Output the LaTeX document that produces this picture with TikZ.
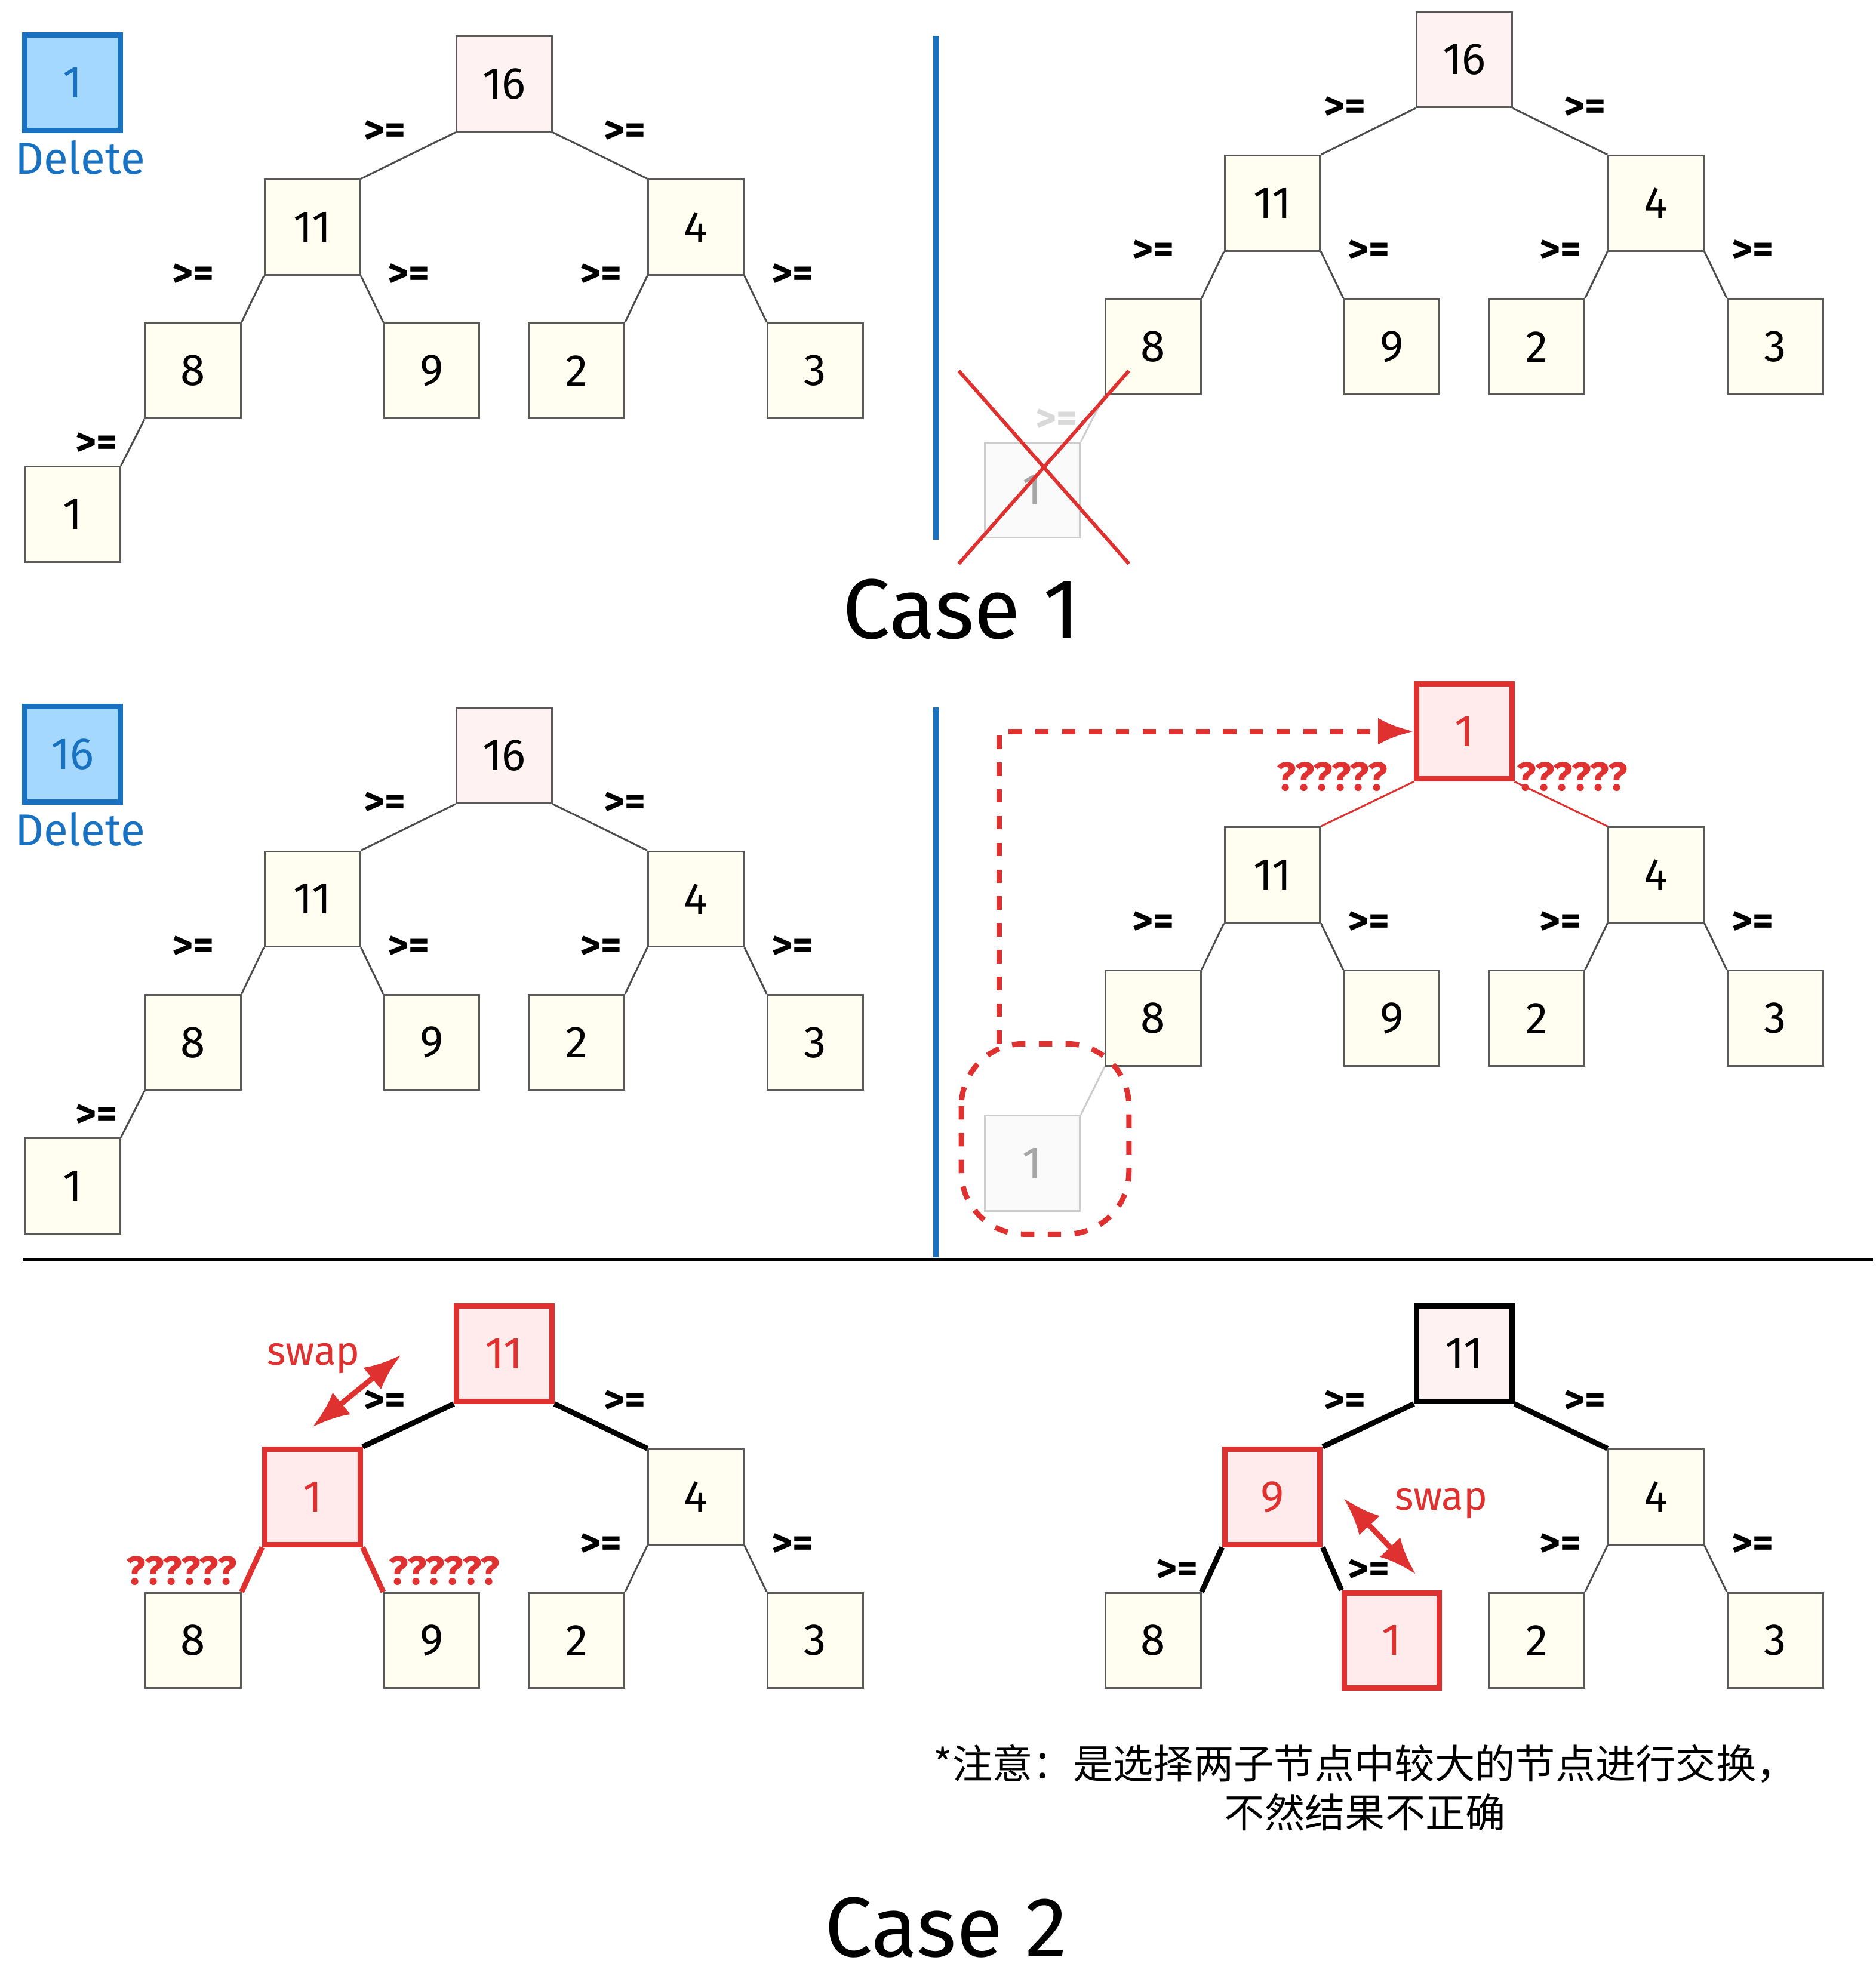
\documentclass[tikz,border=0pt]{standalone}
\usepackage{fontspec}
\setmainfont{Fira Sans}
\newfontfamily\cjk{Noto Sans CJK SC}
\usetikzlibrary{arrows.meta}
\definecolor{ered}{HTML}{E03131}
\definecolor{eblue}{HTML}{1971C2}
\definecolor{lblue}{HTML}{A5D8FF}
\tikzset{
 x=0.01cm,y=-0.01cm,
 bx/.style={draw=black!65,fill=yellow!6,minimum size=0.75cm,inner sep=0pt,font=\normalsize},
 pk/.style={bx,fill=red!5},
 rbx/.style={bx,draw=ered,very thick,fill=red!8,text=ered},
 kbx/.style={bx,draw=black,very thick,fill=red!5},
 fd/.style={bx,draw=black!20,fill=black!2,text=black!35},
 ge/.style={font=\small\bfseries},
 rq/.style={font=\small\bfseries,text=ered},
 ed/.style={draw=black!70},
 the/.style={draw=black,very thick},
 rth/.style={draw=ered,very thick},
 blbx/.style={draw=eblue,very thick,fill=lblue,minimum size=0.75cm,font=\normalsize,text=eblue},
}
\begin{document}
\begin{tikzpicture}
\useasboundingbox (0,0) rectangle (1477,1561);
% ===== top-left =====
\node[blbx] (d1) at (57,65) {1};
\node[text=eblue,font=\normalsize] (d1t) at (63,124) {Delete};
\begin{scope}[shift={(397,66)}]
\node[pk] (a16) at (0,0) {16};
\node[bx] (a11) at (-151,113) {11};
\node[bx] (a4) at (151,113) {4};
\node[bx] (a8) at (-245,226) {8};
\node[bx] (a9) at (-57,226) {9};
\node[bx] (a2) at (57,226) {2};
\node[bx] (a3) at (245,226) {3};
\node[bx] (a1) at (-340,339) {1};
\node[ge] (al1) at (-94,38) {>=};\node[ge] (al2) at (95,38) {>=};
\node[ge] (al3) at (-245,151) {>=};\node[ge] (al4) at (-75,151) {>=};
\node[ge] (al5) at (76,151) {>=};\node[ge] (al6) at (227,151) {>=};
\node[ge] (al7) at (-321,284) {>=};
\end{scope}
\draw[ed] (a16.south west)--(a11.north east); \draw[ed] (a16.south east)--(a4.north west);
\draw[ed] (a11.south west)--(a8.north east); \draw[ed] (a11.south east)--(a9.north west);
\draw[ed] (a4.south west)--(a2.north east); \draw[ed] (a4.south east)--(a3.north west);
\draw[ed] (a8.south west)--(a1.north east);
% ===== top-right =====
\draw[eblue,very thick] (737,28) coordinate (v1a) -- (737,425) coordinate (v1b);
\begin{scope}[shift={(1153,47)}]
\node[pk] (b16) at (0,0) {16};
\node[bx] (b11) at (-151,113) {11};
\node[bx] (b4) at (151,113) {4};
\node[bx] (b8) at (-245,226) {8};
\node[bx] (b9) at (-57,226) {9};
\node[bx] (b2) at (57,226) {2};
\node[bx] (b3) at (245,226) {3};
\node[fd] (b1) at (-340,339) {1};
\node[ge] (bl1) at (-94,38) {>=};\node[ge] (bl2) at (95,38) {>=};
\node[ge] (bl3) at (-245,151) {>=};\node[ge] (bl4) at (-75,151) {>=};
\node[ge] (bl5) at (76,151) {>=};\node[ge] (bl6) at (227,151) {>=};
\node[ge,text=black!15] (bl7) at (-321,284) {>=};
\end{scope}
\draw[ed] (b16.south west)--(b11.north east); \draw[ed] (b16.south east)--(b4.north west);
\draw[ed] (b11.south west)--(b8.north east); \draw[ed] (b11.south east)--(b9.north west);
\draw[ed] (b4.south west)--(b2.north east); \draw[ed] (b4.south east)--(b3.north west);
\draw[black!20] (b8.south west)--(b1.north east);
\draw[ered,thick] (755,292) coordinate (x1) -- (889,444) coordinate (x2);
\draw[ered,thick] (889,292) coordinate (x3) -- (755,444) coordinate (x4);
\node[font=\fontsize{19}{22}\selectfont] (c1) at (757,480) {Case 1};
% ===== middle-left =====
\node[blbx] (d2) at (57,594) {16};
\node[text=eblue,font=\normalsize] (d2t) at (63,653) {Delete};
\begin{scope}[shift={(397,595)}]
\node[pk] (e16) at (0,0) {16};
\node[bx] (e11) at (-151,113) {11};
\node[bx] (e4) at (151,113) {4};
\node[bx] (e8) at (-245,226) {8};
\node[bx] (e9) at (-57,226) {9};
\node[bx] (e2) at (57,226) {2};
\node[bx] (e3) at (245,226) {3};
\node[bx] (e1) at (-340,339) {1};
\node[ge] (el1) at (-94,38) {>=};\node[ge] (el2) at (95,38) {>=};
\node[ge] (el3) at (-245,151) {>=};\node[ge] (el4) at (-75,151) {>=};
\node[ge] (el5) at (76,151) {>=};\node[ge] (el6) at (227,151) {>=};
\node[ge] (el7) at (-321,284) {>=};
\end{scope}
\draw[ed] (e16.south west)--(e11.north east); \draw[ed] (e16.south east)--(e4.north west);
\draw[ed] (e11.south west)--(e8.north east); \draw[ed] (e11.south east)--(e9.north west);
\draw[ed] (e4.south west)--(e2.north east); \draw[ed] (e4.south east)--(e3.north west);
\draw[ed] (e8.south west)--(e1.north east);
% ===== middle-right =====
\draw[eblue,very thick] (737,557) coordinate (v2a) -- (737,990) coordinate (v2b);
\draw[black,thick] (18,992) coordinate (h1) -- (1475,992) coordinate (h2);
\begin{scope}[shift={(1153,576)}]
\node[rbx] (f1r) at (0,0) {1};
\node[bx] (f11) at (-151,113) {11};
\node[bx] (f4) at (151,113) {4};
\node[bx] (f8) at (-245,226) {8};
\node[bx] (f9) at (-57,226) {9};
\node[bx] (f2) at (57,226) {2};
\node[bx] (f3) at (245,226) {3};
\node[fd] (f1) at (-340,340) {1};
\node[rq] (fl1) at (-104,36) {??????};\node[rq] (fl2) at (85,36) {??????};
\node[ge] (fl3) at (-245,151) {>=};\node[ge] (fl4) at (-75,151) {>=};
\node[ge] (fl5) at (76,151) {>=};\node[ge] (fl6) at (227,151) {>=};
\end{scope}
\draw[ered] (f1r.south west)--(f11.north east); \draw[ered] (f1r.south east)--(f4.north west);
\draw[ed] (f11.south west)--(f8.north east); \draw[ed] (f11.south east)--(f9.north west);
\draw[ed] (f4.south west)--(f2.north east); \draw[ed] (f4.south east)--(f3.north west);
\draw[black!20] (f8.south west)--(f1.north east);
\draw[ered,very thick,dashed,rounded corners=14] (757,822) rectangle (889,972);
\coordinate (fs) at (787,822);
\draw[ered,very thick,dashed,-{Latex[length=8pt]}] (fs) |- (f1r.west);
% ===== bottom-left =====
\begin{scope}[shift={(397,1066)}]
\node[rbx] (g11) at (0,0) {11};
\node[rbx] (g1) at (-151,113) {1};
\node[bx] (g4) at (151,113) {4};
\node[bx] (g8) at (-245,226) {8};
\node[bx] (g9) at (-57,226) {9};
\node[bx] (g2) at (57,226) {2};
\node[bx] (g3) at (245,226) {3};
\node[ge] (gl1) at (-94,38) {>=};\node[ge] (gl2) at (95,38) {>=};
\node[rq] (gl3) at (-254,171) {??????};\node[rq] (gl4) at (-47,171) {??????};
\node[ge] (gl5) at (76,151) {>=};\node[ge] (gl6) at (227,151) {>=};
\node[text=ered,font=\small] (gsw) at (-150,4) {swap};
\coordinate (ga) at (-151,58); \coordinate (gb) at (-81,1);
\end{scope}
\draw[ered,very thick,{Latex}-{Latex}] (ga)--(gb);
\draw[the] (g11.south west)--(g1.north east); \draw[the] (g11.south east)--(g4.north west);
\draw[rth] (g1.south west)--(g8.north east); \draw[rth] (g1.south east)--(g9.north west);
\draw[ed] (g4.south west)--(g2.north east); \draw[ed] (g4.south east)--(g3.north west);
% ===== bottom-right =====
\begin{scope}[shift={(1153,1066)}]
\node[kbx] (k11) at (0,0) {11};
\node[rbx] (k9) at (-151,113) {9};
\node[bx] (k4) at (151,113) {4};
\node[bx] (k8) at (-245,226) {8};
\node[rbx] (k1) at (-57,226) {1};
\node[bx] (k2) at (57,226) {2};
\node[bx] (k3) at (245,226) {3};
\node[ge] (kl1) at (-94,38) {>=};\node[ge] (kl2) at (95,38) {>=};
\node[ge] (kl3) at (-226,171) {>=};\node[ge] (kl4) at (-75,171) {>=};
\node[ge] (kl5) at (76,151) {>=};\node[ge] (kl6) at (227,151) {>=};
\node[text=ered,font=\small] (ksw) at (-18,118) {swap};
\coordinate (ka) at (-95,114); \coordinate (kb) at (-38,174);
\end{scope}
\draw[ered,very thick,{Latex}-{Latex}] (ka)--(kb);
\draw[the] (k11.south west)--(k9.north east); \draw[the] (k11.south east)--(k4.north west);
\draw[the] (k9.south west)--(k8.north east); \draw[the] (k9.south east)--(k1.north west);
\draw[ed] (k4.south west)--(k2.north east); \draw[ed] (k4.south east)--(k3.north west);
\node[align=center,font=\cjk\small] (note) at (1075,1408) {*注意：是选择两子节点中较大的节点进行交换，\\不然结果不正确};
\node[font=\fontsize{19}{22}\selectfont] (c2) at (745,1518) {Case 2};
\end{tikzpicture}
\end{document}
